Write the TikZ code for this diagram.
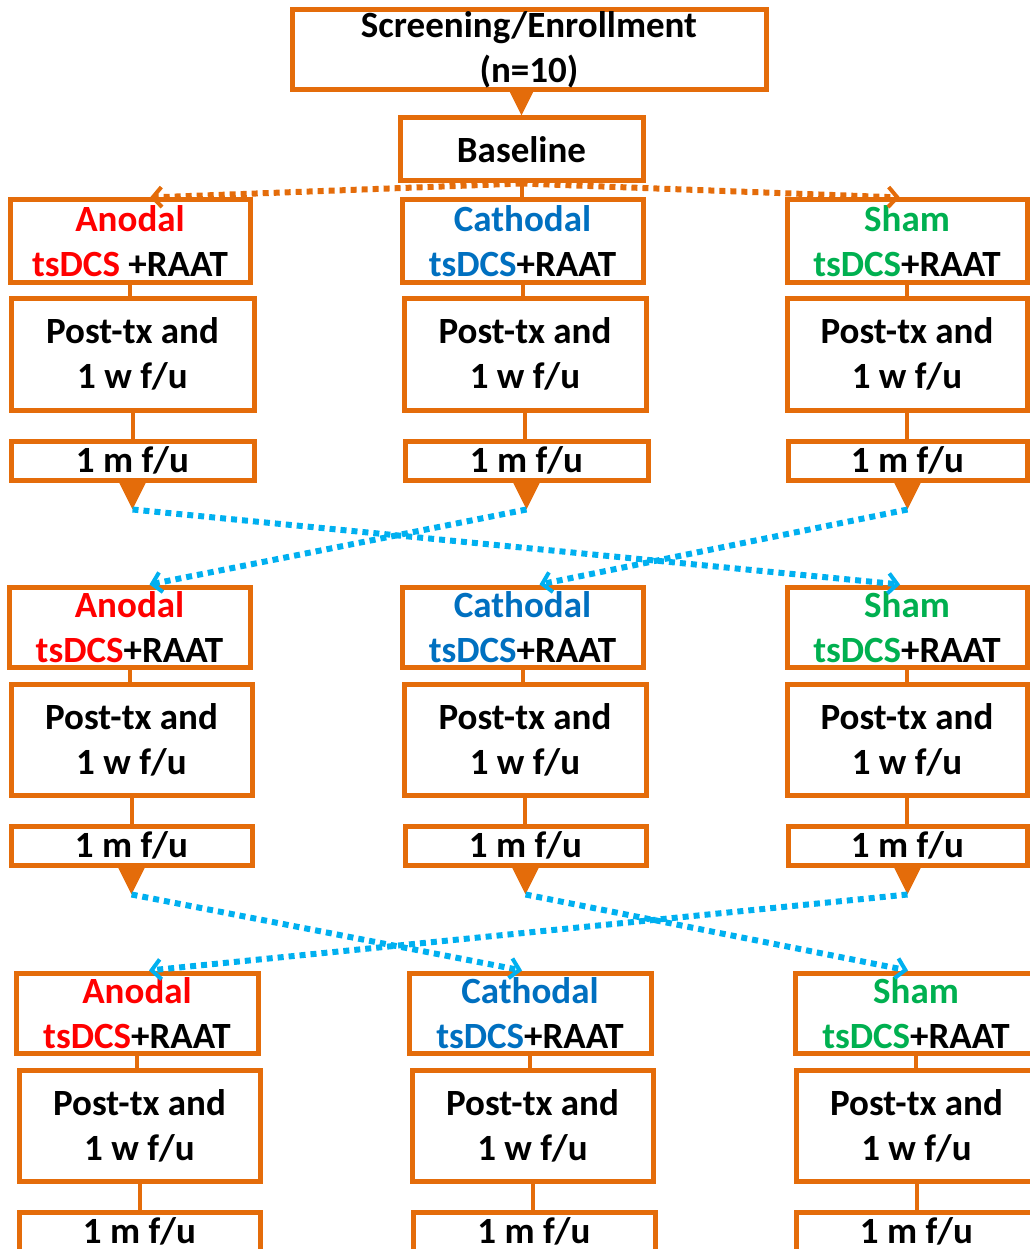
\documentclass[tikz,border=0pt]{standalone}
\usepackage{fontspec}
\setmainfont{Carlito}
\usetikzlibrary{arrows.meta}
\definecolor{orng}{RGB}{228,108,10}
\definecolor{sky}{RGB}{0,176,240}
\definecolor{anod}{RGB}{255,0,0}
\definecolor{cath}{RGB}{0,112,192}
\definecolor{shamc}{RGB}{0,176,80}
\newcommand\bx[6]{\node[box,minimum width={(#4)-(#2)},minimum height={(#5)-(#3)}] (#1) at ({((#2)+(#4))/2},{((#3)+(#5))/2}) {#6};}
\newcommand\an{{\color{anod}Anodal}\\{\color{anod}tsDCS}+RAAT}
\newcommand\ca{{\color{cath}Cathodal}\\{\color{cath}tsDCS}+RAAT}
\newcommand\sh{{\color{shamc}Sham}\\{\color{shamc}tsDCS}+RAAT}
\newcommand\pt{Post-tx and\\1 w f/u}
\newcommand\mf{1 m f/u}
\begin{document}
\begin{tikzpicture}[x=1pt,y=-1pt,
  box/.style={draw=orng, line width=5pt, fill=white, inner sep=0pt, outer sep=2.5pt, align=center,
    font=\fontsize{37}{45}\selectfont\bfseries},
  conn/.style={draw=orng, line width=4pt},
  otip/.style={draw=orng, line width=3pt, -{Triangle[length=27pt,width=26pt]}},
  odot/.style={draw=orng, line width=6pt, dash pattern=on 6pt off 5pt, -{Straight Barb[length=9pt,width=20pt,line width=4pt]}},
  bdot/.style={draw=sky, line width=6pt, dash pattern=on 6pt off 5pt, -{Straight Barb[length=9pt,width=20pt,line width=4pt]}}]
\useasboundingbox (0,0) rectangle (1029,1249);
% top
\bx{scr}{292}{10}{766}{90}{Screening/Enrollment\\(n=10)}
\bx{base}{400}{118}{643}{181}{Baseline}
% row 1
\bx{A1}{10}{200}{250}{282}{{\color{anod}Anodal}\\{\color{anod}tsDCS} +RAAT}
\bx{C1}{402}{200}{643}{282}{\ca}
\bx{S1}{787}{200}{1027}{282}{\sh}
\bx{PA1}{11}{298}{254}{410}{\pt}
\bx{PC1}{404}{298}{646}{410}{\pt}
\bx{PS1}{787}{298}{1027}{410}{\pt}
\bx{MA1}{11}{441}{254}{480}{\mf}
\bx{MC1}{405}{441}{648}{480}{\mf}
\bx{MS1}{788}{441}{1027}{480}{\mf}
% row 2
\bx{A2}{9}{587}{250}{667}{\an}
\bx{C2}{402}{587}{643}{667}{\ca}
\bx{S2}{787}{587}{1027}{667}{\sh}
\bx{PA2}{11}{684}{252}{795}{\pt}
\bx{PC2}{404}{684}{646}{795}{\pt}
\bx{PS2}{787}{684}{1027}{795}{\pt}
\bx{MA2}{11}{826}{252}{865}{\mf}
\bx{MC2}{405}{826}{646}{865}{\mf}
\bx{MS2}{788}{826}{1027}{865}{\mf}
% row 3
\bx{A3}{16}{973}{258}{1053}{\an}
\bx{C3}{409}{973}{651}{1053}{\ca}
\bx{S3}{795}{973}{1037}{1053}{\sh}
\bx{PA3}{19}{1070}{260}{1181}{\pt}
\bx{PC3}{412}{1070}{653}{1181}{\pt}
\bx{PS3}{796}{1070}{1037}{1181}{\pt}
\bx{MA3}{19}{1212}{260}{1251}{\mf}
\bx{MC3}{413}{1212}{655}{1251}{\mf}
\bx{MS3}{796}{1212}{1037}{1251}{\mf}
% connectors top
\draw[otip] (base.north |- scr.south) -- (base.north);
\draw[conn] (base.south) -- (base.south |- C1.north);
\draw[odot] (base.south) -- ([xshift=20]A1.north);
\draw[odot] (base.south) -- ([xshift=-7]S1.north);
% vertical connectors
\foreach \r in {1,2,3}{
  \foreach \c in {A,C,S}{
    \draw[conn] (\c\r.south) -- (\c\r.south |- P\c\r.north);
    \draw[conn] (P\c\r.south) -- (P\c\r.south |- M\c\r.north);
  }
}
% tips
\foreach \r in {1,2}{
  \foreach \c in {A,C,S}{
    \draw[otip] (M\c\r.south) -- ++(0,27) coordinate (t\c\r);
  }
}
% crossover row1 -> row2
\draw[bdot] (tA1) -- ([xshift=-7]S2.north);
\draw[bdot] (tC1) -- ([xshift=20]A2.north);
\draw[bdot] (tS1) -- ([xshift=17]C2.north);
% crossover row2 -> row3
\draw[bdot] (tA2) -- ([xshift=-8]C3.north);
\draw[bdot] (tC2) -- ([xshift=-8]S3.north);
\draw[bdot] (tS2) -- ([xshift=12]A3.north);
\end{tikzpicture}
\end{document}
